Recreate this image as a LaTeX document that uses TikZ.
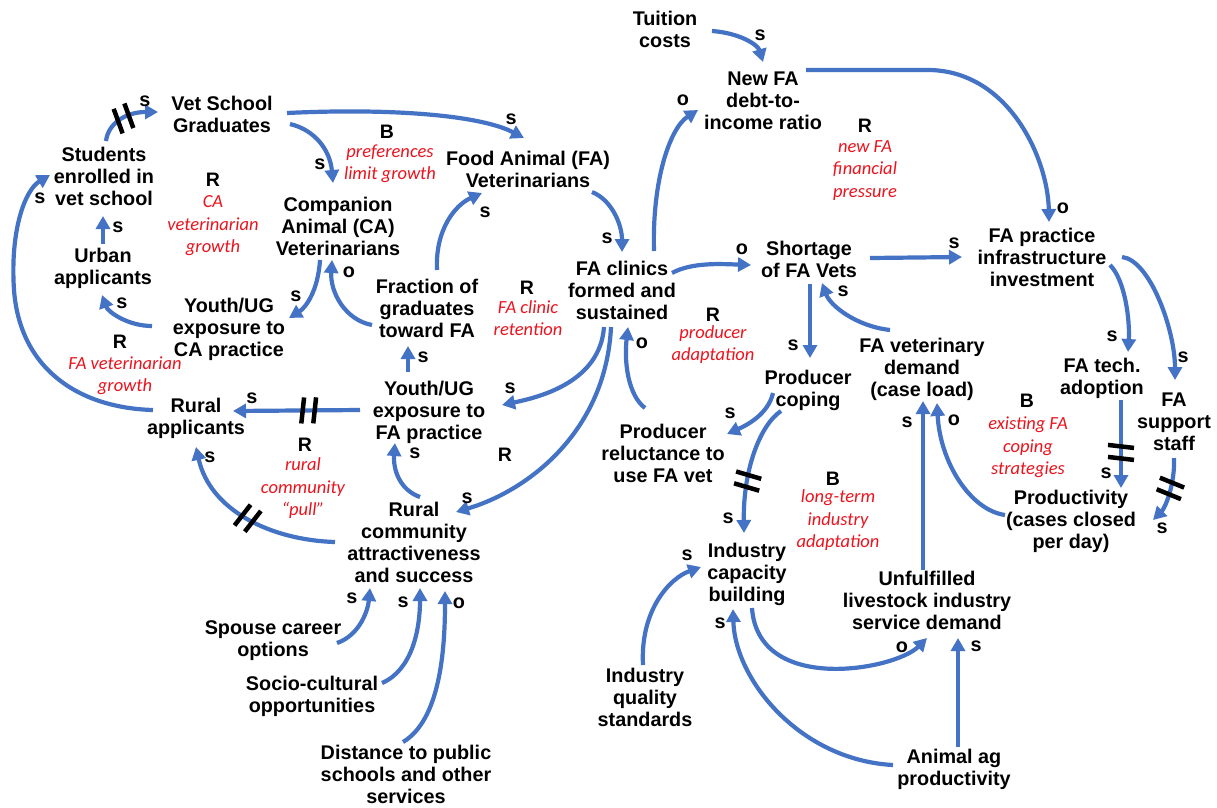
\documentclass[tikz,border=0pt]{standalone}
\usepackage{fontspec}
\setmainfont{Liberation Sans}
\newfontfamily\cldNoteFamily{Carlito}
\usetikzlibrary{arrows.meta,decorations.markings}
\definecolor{linkblue}{RGB}{68,114,196}
\definecolor{loopred}{RGB}{235,20,30}
\newcommand\cldVarFont{\fontsize{19.8}{22}\selectfont\bfseries}
\newcommand\cldPolFont{\fontsize{19.8}{22}\selectfont\bfseries}
\newcommand\cldLoopFont{\fontsize{19.5}{22}\selectfont\bfseries}
\newcommand\cldNoteFont{\cldNoteFamily\itshape\fontsize{18.5}{22.5}\selectfont}

\begin{document}
\begin{tikzpicture}[x=1pt,y=-1pt,
  var/.style={font=\cldVarFont, align=center, inner sep=0pt, text depth=0pt},
  pol/.style={font=\cldPolFont, inner sep=0pt},
  loopid/.style={font=\cldLoopFont, inner sep=0pt},
  looptxt/.style={font=\cldNoteFont, text=loopred, align=center, inner sep=0pt, text depth=0pt},
  link/.style={draw=linkblue, line width=4.2pt, -{Triangle[length=13pt,width=14pt]}},
  delaymark/.style={postaction={decorate,decoration={markings,
      mark=at position #1 with {\draw[-,black,line width=4.5pt]
        (-7pt,-13pt) -- (-4pt,13pt) (5pt,-13pt) -- (8pt,13pt);}}}}
]
\fill[white] (0,0) rectangle (1217,807);
\useasboundingbox (0,0) rectangle (1217,807);

% ---- variables ----
\node[var] (stud) at (104,176) {Students\\enrolled in\\vet school};
\node[var] (vsg) at (222,114) {Vet School\\Graduates};
\node[var] (ca) at (338,226) {Companion\\Animal (CA)\\Veterinarians};
\node[var] (urban) at (103,266) {Urban\\applicants};
\node[var] (yca) at (229,327) {Youth/UG\\exposure to\\CA practice};
\node[var] (frac) at (427,308) {Fraction of\\graduates\\toward FA};
\node[var] (fav) at (528,169) {Food Animal (FA)\\Veterinarians};
\node[var] (clin) at (622,290) {FA clinics\\formed and\\sustained};
\node[var] (tuit) at (665,29) {Tuition\\costs};
\node[var] (debt) at (763,101) {New FA\\debt-to-\\income ratio};
\node[var] (short) at (809,259) {Shortage\\of FA Vets};
\node[var] (infra) at (1042,257) {FA practice\\infrastructure\\investment};
\node[var] (yfa) at (429,410) {Youth/UG\\exposure to\\FA practice};
\node[var] (rapp) at (196,416) {Rural\\applicants};
\node[var] (reluc) at (663,453) {Producer\\reluctance to\\use FA vet};
\node[var] (coping) at (808,388) {Producer\\coping};
\node[var] (demand) at (922,367) {FA veterinary\\demand\\(case load)};
\node[var] (tech) at (1102,376) {FA tech.\\adoption};
\node[var] (staff) at (1174,422) {FA\\support\\staff};
\node[var] (prod) at (1071,519) {Productivity\\(cases closed\\per day)};
\node[var] (rural) at (414,542) {Rural\\community\\attractiveness\\and success};
\node[var] (spouse) at (273,639) {Spouse career\\options};
\node[var] (socio) at (312,694) {Socio-cultural\\opportunities};
\node[var] (dist) at (406,774) {Distance to public\\schools and other\\services};
\node[var] (icap) at (747,572) {Industry\\capacity\\building};
\node[var] (iqs) at (645,697) {Industry\\quality\\standards};
\node[var] (unful) at (927,600) {Unfulfilled\\livestock industry\\service demand};
\node[var] (animal) at (954,767) {Animal ag\\productivity};

% ---- loop identifiers ----
\node[loopid] (l1) at (387,132) {B};
\node[looptxt] (t1) at (390,162) {preferences\\limit growth};
\node[loopid] (l2) at (213,180) {R};
\node[looptxt] (t2) at (213,224) {CA\\veterinarian\\growth};
\node[loopid] (l3) at (120,342) {R};
\node[looptxt] (t3) at (125,374) {FA veterinarian\\growth};
\node[loopid] (l4) at (305,445) {R};
\node[looptxt] (t4) at (303,487) {rural\\community\\“pull”};
\node[loopid] (l5) at (527,288) {R};
\node[looptxt] (t5) at (528,318) {FA clinic\\retention};
\node[loopid] (l6) at (505,455) {R};
\node[loopid] (l7) at (713,315) {R};
\node[looptxt] (t7) at (713,343) {producer\\adaptation};
\node[loopid] (l8) at (865,126) {R};
\node[looptxt] (t8) at (865,169) {new FA\\financial\\pressure};
\node[loopid] (l9) at (1027,401) {B};
\node[looptxt] (t9) at (1028,446) {existing FA\\coping\\strategies};
\node[loopid] (l10) at (833,479) {B};
\node[looptxt] (t10) at (838,519) {long-term\\industry\\adaptation};

% ---- causal links ----
\draw[link,delaymark=0.45] ([shift={(2,-35)}]stud.center) .. controls (108,124) and (125,112) .. ([shift={(-64,-2)}]vsg.center);
\draw[link] ([shift={(65,-1)}]vsg.center) .. controls (390,108) and (480,115) .. ([shift={(-4,-31)}]fav.center);
\draw[link] ([shift={(68,10)}]vsg.center) .. controls (315,130) and (330,150) .. ([shift={(-5,-43)}]ca.center);
\draw[link] ([shift={(0,-22)}]urban.center) -- ([shift={(0,40)}]stud.center -| urban.center);
\draw[link] ([shift={(-77,-1)}]yca.center) .. controls (128,326) and (108,312) .. ([shift={(-1,29)}]urban.center);
\draw[link] ([shift={(-18,34)}]ca.center) .. controls (318,292) and (305,308) .. ([shift={(60,-9)}]yca.center);
\draw[link] ([shift={(-55,17)}]frac.center) .. controls (345,320) and (330,292) .. ([shift={(-6,34)}]ca.center);
\draw[link] ([shift={(10,-38)}]frac.center) .. controls (435,230) and (455,205) .. ([shift={(-46,24)}]fav.center);
\draw[link] ([shift={(64,23)}]fav.center) .. controls (612,200) and (622,225) .. ([shift={(0,-38)}]clin.center);
\draw[link] ([shift={(32,-39)}]clin.center) .. controls (652,180) and (670,128) .. ([shift={(-65,9)}]debt.center);
\draw[link] ([shift={(47,2)}]tuit.center) .. controls (740,33) and (758,45) .. ([shift={(0,-39)}]debt.center);
\draw[link] ([shift={(43,-31)}]debt.center) -- (930,70) .. controls (1010,72) and (1048,160) .. ([shift={(7,-35)}]infra.center);
\draw[link] ([shift={(50,-17)}]clin.center) .. controls (692,262) and (722,264) .. ([shift={(-58,6)}]short.center);
\draw[link] ([shift={(61,-1)}]short.center) -- ([shift={(-80,0)}]infra.center);
\draw[link] ([shift={(1,25)}]short.center) -- ([shift={(2,-30)}]coping.center);
\draw[link] ([shift={(-32,-37)}]demand.center) .. controls (855,326) and (830,305) .. ([shift={(13,24)}]short.center);
\draw[link] ([shift={(-18,37)}]clin.center) .. controls (600,382) and (540,397) .. ([shift={(73,-5)}]yfa.center);
\draw[link] ([shift={(-11,37)}]clin.center) .. controls (606,430) and (530,490) .. ([shift={(42,-30)}]rural.center);
\draw[link] ([shift={(-18,-45)}]reluc.center) .. controls (628,395) and (624,362) .. ([shift={(6,37)}]clin.center);
\draw[link] ([shift={(-35,5)}]coping.center) .. controls (768,415) and (745,426) .. ([shift={(64,-19)}]reluc.center);
\draw[link,delaymark=0.6] ([shift={(-27,23)}]coping.center) .. controls (760,425) and (743,470) .. ([shift={(-3,-39)}]icap.center);
\draw[link,delaymark=0.4] ([shift={(-69,0)}]yfa.center) -- ([shift={(37,-5)}]rapp.center);
\draw[link] ([shift={(-21,-38)}]yfa.center) -- ([shift={(-19,38)}]frac.center);
\draw[link] ([shift={(6,-45)}]rural.center) .. controls (400,490) and (393,470) .. ([shift={(-34,33)}]yfa.center);
\draw[link,delaymark=0.5] ([shift={(-79,0)}]rural.center) .. controls (270,540) and (210,510) .. ([shift={(0,31)}]rapp.center);
\draw[link] ([shift={(-43,-6)}]rapp.center) .. controls (80,408) and (20,370) .. (14,290) .. controls (10,230) and (25,190) .. ([shift={(-54,-1)}]stud.center);
\draw[link] ([shift={(64,4)}]spouse.center) .. controls (360,635) and (368,610) .. ([shift={(-44,46)}]rural.center);
\draw[link] ([shift={(70,-11)}]socio.center) .. controls (412,670) and (420,630) .. ([shift={(6,46)}]rural.center);
\draw[link] ([shift={(-3,-32)}]dist.center) .. controls (440,720) and (445,650) .. ([shift={(31,49)}]rural.center);
\draw[link] ([shift={(-2,-32)}]iqs.center) .. controls (640,610) and (670,578) .. ([shift={(-46,-5)}]icap.center);
\draw[link] ([shift={(5,36)}]icap.center) .. controls (758,695) and (895,670) .. ([shift={(0,38)}]unful.center);
\draw[link] ([shift={(-61,-2)}]animal.center) .. controls (800,760) and (735,680) .. ([shift={(-14,37)}]icap.center);
\draw[link] ([shift={(4,-20)}]animal.center) -- ([shift={(31,38)}]unful.center);
\draw[link] ([shift={(-4,-30)}]unful.center) -- ([shift={(1,34)}]demand.center);
\draw[link] ([shift={(-66,-4)}]prod.center) .. controls (970,510) and (940,462) .. ([shift={(15,36)}]demand.center);
\draw[link] ([shift={(68,8)}]infra.center) .. controls (1125,280) and (1130,320) .. ([shift={(26,-24)}]tech.center);
\draw[link] ([shift={(80,0)}]infra.center) .. controls (1150,260) and (1175,330) .. ([shift={(1,-42)}]staff.center);
\draw[link,delaymark=0.59] ([shift={(19,24)}]tech.center) -- ([shift={(50,-31)}]prod.center);
\draw[link,delaymark=0.45] ([shift={(0,36)}]staff.center) .. controls (1175,485) and (1165,508) .. ([shift={(82,1)}]prod.center);

% ---- link polarities ----
\node[pol] (p1) at (145,101) {s};
\node[pol] (p2) at (511,119) {s};
\node[pol] (p3) at (320,164) {s};
\node[pol] (p4) at (118,227) {s};
\node[pol] (p5) at (122,303) {s};
\node[pol] (p6) at (296,296) {s};
\node[pol] (p7) at (349,272) {o};
\node[pol] (p8) at (485,212) {s};
\node[pol] (p9) at (607,238) {s};
\node[pol] (p10) at (683,100) {o};
\node[pol] (p11) at (760,35) {s};
\node[pol] (p12) at (1063,208) {o};
\node[pol] (p13) at (742,249) {o};
\node[pol] (p14) at (954,243) {s};
\node[pol] (p15) at (793,345) {s};
\node[pol] (p16) at (843,291) {s};
\node[pol] (p17) at (510,388) {s};
\node[pol] (p18) at (467,498) {s};
\node[pol] (p19) at (642,343) {o};
\node[pol] (p20) at (730,413) {s};
\node[pol] (p21) at (728,518) {s};
\node[pol] (p22) at (252,398) {s};
\node[pol] (p23) at (423,357) {s};
\node[pol] (p24) at (415,453) {s};
\node[pol] (p25) at (210,457) {s};
\node[pol] (p26) at (40,198) {s};
\node[pol] (p27) at (352,598) {s};
\node[pol] (p28) at (403,602) {s};
\node[pol] (p29) at (459,603) {o};
\node[pol] (p30) at (687,555) {s};
\node[pol] (p31) at (902,647) {o};
\node[pol] (p32) at (720,623) {s};
\node[pol] (p33) at (976,646) {s};
\node[pol] (p34) at (907,422) {s};
\node[pol] (p35) at (954,420) {o};
\node[pol] (p36) at (1112,336) {s};
\node[pol] (p37) at (1183,357) {s};
\node[pol] (p38) at (1106,473) {s};
\node[pol] (p39) at (1162,528) {s};
\end{tikzpicture}
\end{document}
